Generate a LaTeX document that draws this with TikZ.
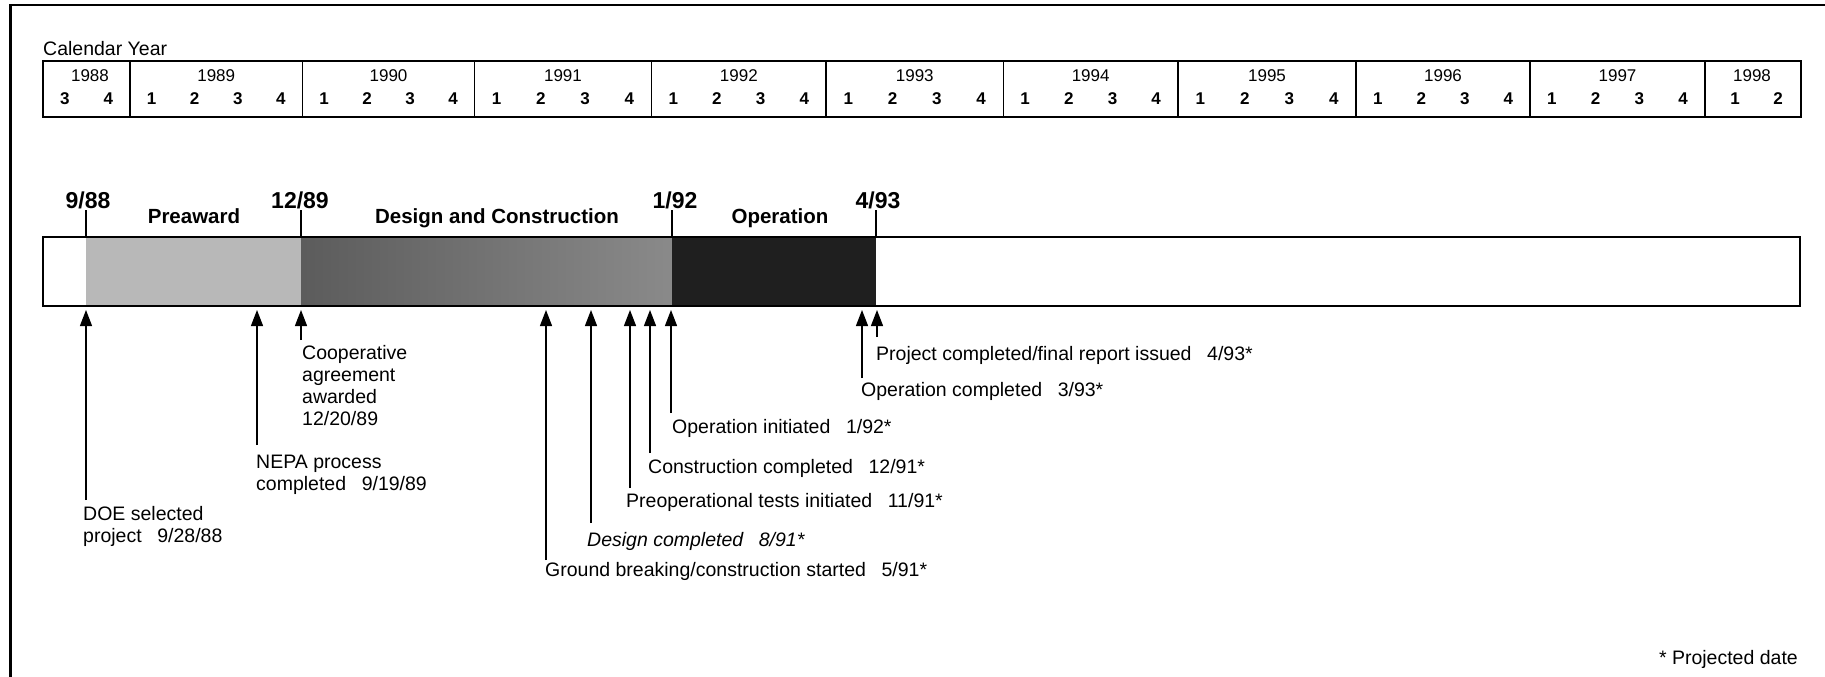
\documentclass[tikz,border=0pt]{standalone}
\usepackage{fontspec}
\setmainfont{Liberation Sans}
\usetikzlibrary{arrows.meta}
\begin{document}
\begin{tikzpicture}[x=1pt,y=-1pt,
  txt/.style={font=\fontsize{19.5}{22}\selectfont, inner sep=0pt, anchor=north west, align=left},
  yrlbl/.style={font=\fontsize{17}{20}\selectfont, inner sep=0pt},
  qlbl/.style={font=\fontsize{17}{20}\selectfont\bfseries, inner sep=0pt},
  datelbl/.style={font=\fontsize{23}{26}\selectfont\bfseries, inner sep=0pt, anchor=base},
  phaselbl/.style={font=\fontsize{20.5}{24}\selectfont\bfseries, inner sep=0pt, anchor=base},
  arr/.style={-{Triangle[length=16pt,width=12pt]}, line width=1.3pt},
  tick/.style={line width=1.4pt}]
\fill[white] (0,0) rectangle (1825,677);
\useasboundingbox (0,0) rectangle (1825,677);
% frame
\draw[line width=3pt] (10,677) -- (10,5);
\draw[line width=2pt] (9,5) -- (1825,5);
% calendar
\node[font=\fontsize{19.5}{22}\selectfont, inner sep=0pt, anchor=base west] (cal) at (43,56) {Calendar Year};
\draw[line width=2pt] (43,61) rectangle (1801,117);
\foreach \x in {130,302.5,474.5,651.4,826.2,1003.3,1178,1356,1530,1705}
  \draw[line width=1.6pt] (\x,61) -- (\x,117);
\node[yrlbl] (y1988) at (90,76) {1988};
\node[qlbl] (q1988-3) at (64.75,99) {3};
\node[qlbl] (q1988-4) at (108.25,99) {4};
\foreach \a/\b/\yr in {130/302.5/1989,302.5/474.5/1990,474.5/651.4/1991,651.4/826.2/1992,826.2/1003.3/1993,1003.3/1178/1994,1178/1356/1995,1356/1530/1996,1530/1705/1997}{
  \node[yrlbl] (y\yr) at ({(\a+\b)/2},76) {\yr};
  \foreach \q in {1,2,3,4}
    \node[qlbl] (q\yr-\q) at ({\a+(\q-0.5)*(\b-\a)/4},99) {\q};
}
\node[yrlbl] (y1998) at (1752,76) {1998};
\node[qlbl] (q1998-1) at (1735,99) {1};
\node[qlbl] (q1998-2) at (1778,99) {2};
% bar
\fill[black!28] (86,237) rectangle (301,306);
\shade[left color=black!64, right color=black!46] (301,237) rectangle (672,306);
\fill[black!88] (672,237) rectangle (876,306);
\draw[line width=2.6pt] (43,237) rectangle (1800,306);
% ticks and date labels
\node[datelbl] (d988) at (88,208) {9/88};
\node[datelbl] (d1289) at (300,208) {12/89};
\node[datelbl] (d192) at (675,208) {1/92};
\node[datelbl] (d493) at (878,208) {4/93};
\draw[tick] (86,210) -- (86,237);
\draw[tick] (301,210) -- (301,237);
\draw[tick] (672,210) -- (672,237);
\draw[tick] (876,210) -- (876,237);
\node[phaselbl] (pre) at (194,223) {Preaward};
\node[phaselbl] (dc) at (497,223) {Design and Construction};
\node[phaselbl] (op) at (780,223) {Operation};
% milestone labels
\node[txt] (doe) at (83,506) {DOE selected\\project\hspace{0.8em}9/28/88};
\node[txt] (nepa) at (256,455) {NEPA process\\completed\hspace{0.8em}9/19/89};
\node[txt] (coop) at (302,345) {Cooperative\\agreement\\awarded\\12/20/89};
\node[txt] (gb) at (545,562) {Ground breaking/construction started\hspace{0.8em}5/91*};
\node[txt, font=\fontsize{19.5}{22}\selectfont\itshape] (dsg) at (587,532) {Design completed\hspace{0.8em}8/91*};
\node[txt] (pre2) at (626,493) {Preoperational tests initiated\hspace{0.8em}11/91*};
\node[txt] (cc) at (648,459) {Construction completed\hspace{0.8em}12/91*};
\node[txt] (oi) at (672,419) {Operation initiated\hspace{0.8em}1/92*};
\node[txt] (oc) at (861,382) {Operation completed\hspace{0.8em}3/93*};
\node[txt] (pc) at (876,346) {Project completed/final report issued\hspace{0.8em}4/93*};
\node[font=\fontsize{19.5}{22}\selectfont, inner sep=0pt, anchor=base east] (proj) at (1798,664) {* Projected date};
% arrow tips and line ends
\foreach \n/\x/\yb in {doe/86/500, nepa/257/445, coop/301/340, gb/546/560, dsg/591/523, pre2/630/488, cc/650/453, oi/671/413, oc/862/378, pc/877/337}{
  \coordinate (t\n) at (\x,310);
  \coordinate (b\n) at (\x,\yb);
  \draw[arr] (b\n) -- (t\n);
}
\end{tikzpicture}
\end{document}
